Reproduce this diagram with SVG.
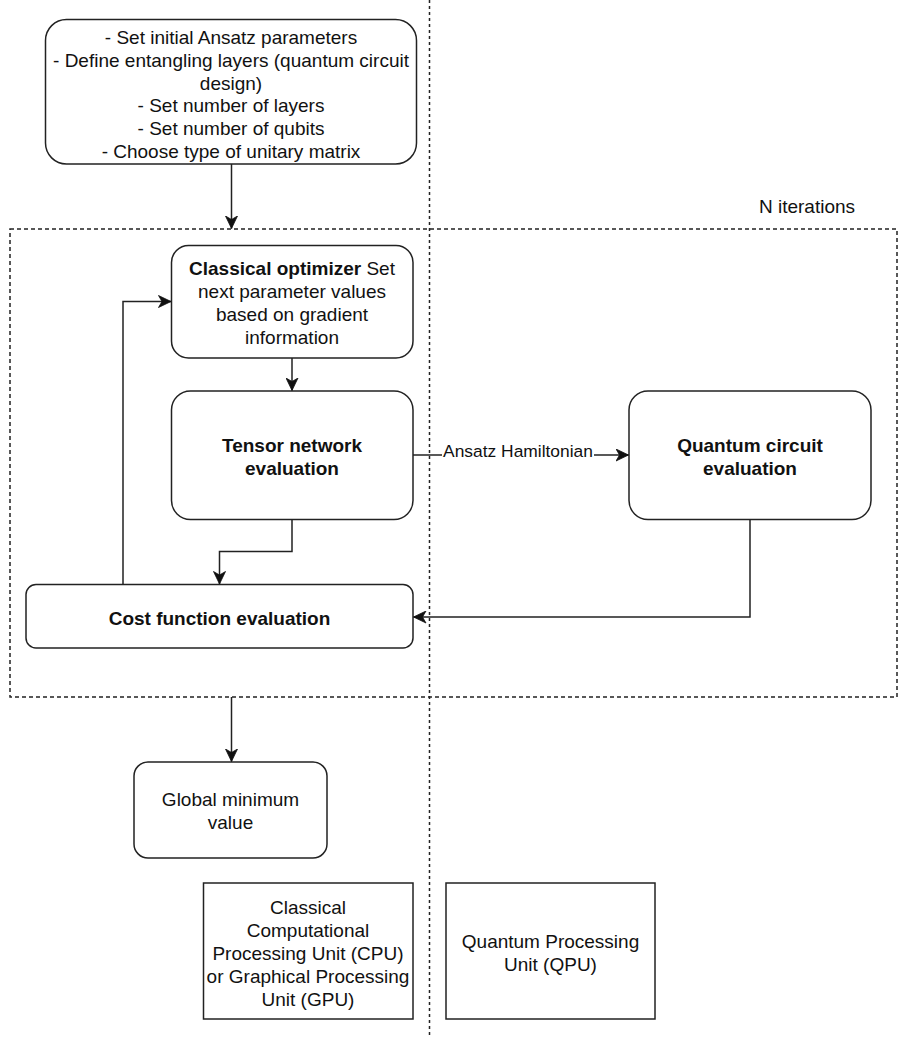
<svg xmlns="http://www.w3.org/2000/svg" width="912" height="1046" viewBox="0 0 912 1046">
<style>
.box{fill:#fff;stroke:#222;stroke-width:1.5}
.t{font-family:"Liberation Sans",Arial,sans-serif;font-size:19px;fill:#111;text-anchor:middle}
.b{font-weight:bold}
.edge{fill:none;stroke:#222;stroke-width:1.5}
.dash{fill:none;stroke:#222;stroke-width:1.5;stroke-dasharray:4 3}
.vdash{fill:none;stroke:#222;stroke-width:1.5;stroke-dasharray:3 3}
.lbl{font-family:"Liberation Sans",Arial,sans-serif;font-size:17.4px;fill:#111;text-anchor:middle}
</style>
<defs>
<marker id="arr" markerUnits="userSpaceOnUse" markerWidth="14" markerHeight="13" refX="13" refY="6.5" orient="auto" viewBox="0 0 14 13">
<path d="M0.5,0.5 L13,6.5 L0.5,12.5 L4,6.5 Z" fill="#111" stroke="#111" stroke-width="0.8" stroke-linejoin="miter"/>
</marker>
</defs>
<rect width="912" height="1046" fill="#fff"/>

<g id="separator">
<line class="vdash" x1="429.5" y1="0" x2="429.5" y2="1036"/>
</g>

<g id="iterations">
<rect class="dash" x="10" y="229" width="887" height="468"/>
<text class="t" x="807" y="213">N iterations</text>
</g>

<g id="init">
<rect class="box" x="45.5" y="19.5" width="371" height="144.5" rx="21" ry="21"/>
<text class="t" x="231" y="43.7">- Set initial Ansatz parameters</text>
<text class="t" x="231" y="66.6">- Define entangling layers (quantum circuit</text>
<text class="t" x="231" y="89.5">design)</text>
<text class="t" x="231" y="112.4">- Set number of layers</text>
<text class="t" x="231" y="135.3">- Set number of qubits</text>
<text class="t" x="231" y="158.2">- Choose type of unitary matrix</text>
</g>

<g id="optimizer">
<rect class="box" x="171.5" y="245.5" width="241.5" height="112.5" rx="17" ry="17"/>
<text class="t" x="292" y="275"><tspan class="b">Classical optimizer</tspan> Set</text>
<text class="t" x="292" y="298">next parameter values</text>
<text class="t" x="292" y="321">based on gradient</text>
<text class="t" x="292" y="344">information</text>
</g>

<g id="tensor">
<rect class="box" x="171.5" y="391" width="241.5" height="128.5" rx="19" ry="19"/>
<text class="t b" x="292" y="451.5">Tensor network</text>
<text class="t b" x="292" y="474.5">evaluation</text>
</g>

<g id="quantum">
<rect class="box" x="629" y="391" width="242" height="128.5" rx="19" ry="19"/>
<text class="t b" x="750" y="451.5">Quantum circuit</text>
<text class="t b" x="750" y="474.5">evaluation</text>
</g>

<g id="cost">
<rect class="box" x="26" y="584.5" width="387" height="63.5" rx="10" ry="10"/>
<text class="t b" x="219.5" y="624.5">Cost function evaluation</text>
</g>

<g id="global">
<rect class="box" x="134" y="762" width="193" height="96" rx="14" ry="14"/>
<text class="t" x="230.5" y="806">Global minimum</text>
<text class="t" x="230.5" y="829">value</text>
</g>

<g id="cpu">
<rect class="box" x="203.5" y="883" width="209.5" height="136"/>
<text class="t" x="308" y="913.5">Classical</text>
<text class="t" x="308" y="936.5">Computational</text>
<text class="t" x="308" y="959.5">Processing Unit (CPU)</text>
<text class="t" x="308" y="982.5">or Graphical Processing</text>
<text class="t" x="308" y="1005.5">Unit (GPU)</text>
</g>

<g id="qpu">
<rect class="box" x="446" y="883" width="209" height="136"/>
<text class="t" x="550.5" y="947.5">Quantum Processing</text>
<text class="t" x="550.5" y="970.5">Unit (QPU)</text>
</g>

<g id="connectors">
<path class="edge" d="M231.5 164 V228.5" marker-end="url(#arr)"/>
<path class="edge" d="M292 358 V390.5" marker-end="url(#arr)"/>
<path class="edge" d="M413 455 H628.5" marker-end="url(#arr)"/>
<rect x="442" y="443" width="152" height="20" fill="#fff"/>
<text class="lbl" x="518" y="457">Ansatz Hamiltonian</text>
<path class="edge" d="M750 519.5 V617 H413.5" marker-end="url(#arr)"/>
<path class="edge" d="M292 519.5 V551.5 H219.5 V584" marker-end="url(#arr)"/>
<path class="edge" d="M123 584.5 V301.5 H171" marker-end="url(#arr)"/>
<path class="edge" d="M231.5 697 V761.5" marker-end="url(#arr)"/>
</g>
</svg>
